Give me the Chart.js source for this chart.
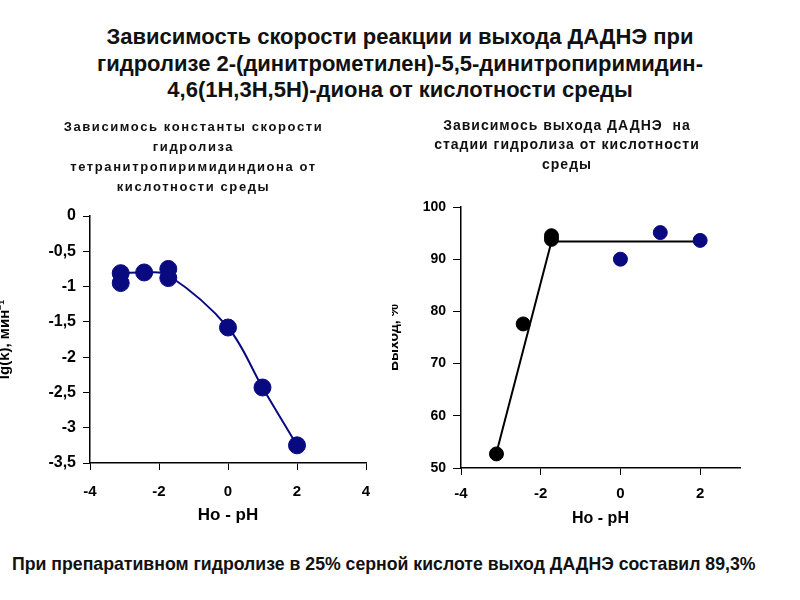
<!DOCTYPE html>
<html><head><meta charset="utf-8">
<script src="https://cdn.jsdelivr.net/npm/chart.js"></script>
<style>
html,body{margin:0;padding:0;background:#fff;width:800px;height:600px;overflow:hidden;font-family:'Liberation Sans',Arial,sans-serif;}
#title{position:absolute;left:0;top:24px;width:800px;text-align:center;font-weight:bold;font-size:22px;line-height:26.5px;color:#111;}
#footer{position:absolute;left:12px;top:554px;font-weight:bold;font-size:17.7px;line-height:20px;white-space:nowrap;color:#111;}
#c1{position:absolute;left:0;top:110px;z-index:2;background:#fff;}
#c2{position:absolute;left:376px;top:110px;z-index:1;}
</style></head><body>
<div id="title">Зависимость скорости реакции и выхода ДАДНЭ при<br>гидролизе 2-(динитрометилен)-5,5-динитропиримидин-<br>4,6(1H,3H,5H)-диона от кислотности среды</div>
<canvas id="c1" width="392" height="430"></canvas>
<canvas id="c2" width="424" height="430"></canvas>
<div id="footer">При препаративном гидролизе в 25% серной кислоте выход ДАДНЭ составил 89,3%</div>
<script>
// ---- Chart 1: rate constant vs acidity ----
const kX = [-3.11, -3.11, -2.43, -1.73, -1.73, 0, 1, 2];
const kY = [-0.81, -0.95, -0.80, -0.75, -0.88, -1.58, -2.43, -3.25];
const kFitX = [-3.11, -2.43, -1.73, 0, 1, 2];
const kFitY = [-0.81, -0.80, -0.84, -1.58, -2.43, -3.25];
const kXTicks = [-4, -2, 0, 2, 4];
const kYTicks = [0, -0.5, -1, -1.5, -2, -2.5, -3, -3.5];
const kTitle = ['Зависимось константы скорости', 'гидролиза', 'тетранитропиримидиндиона от', 'кислотности среды'];

// ---- Chart 2: yield vs acidity ----
const yieldBlackX = [-3.11, -2.44, -1.73, -1.73];
const yieldBlackY = [52.7, 77.6, 94.5, 93.8];
const yieldBlueX = [0, 1, 2];
const yieldBlueY = [90.0, 95.1, 93.6];
const yieldFitX = [-3.11, -1.73, 2];
const yieldFitY = [52.9, 93.4, 93.4];
const yXTicks = [-4, -2, 0, 2];
const yYTicks = [50, 60, 70, 80, 90, 100];
const yTitle = ['Зависимось выхода ДАДНЭ  на', 'стадии гидролиза от кислотности', 'среды'];

const NAVY = '#0a0a80';
Chart.defaults.font.family = "'Liberation Sans', Arial, sans-serif";
Chart.defaults.color = '#000';

const pts = (xs, ys) => xs.map((x, i) => ({x: x, y: ys[i]}));

// letter-spaced chart title (wraps the title box draw)
const spacedTitle = {
  id: 'spacedTitle',
  beforeDraw(chart, args, opts) {
    const tb = chart.titleBlock;
    if (tb && !tb._spaced) {
      const orig = tb.draw.bind(tb);
      tb.draw = function () {
        const ctx = this.ctx;
        const prev = ctx.letterSpacing;
        ctx.letterSpacing = (opts.spacing || 0) + 'px';
        orig();
        ctx.letterSpacing = prev || '0px';
      };
      tb._spaced = true;
    }
  }
};

function axis(o) {
  return {
    type: 'linear', min: o.min, max: o.max,
    afterBuildTicks: s => { s.ticks = o.ticks.map(v => ({value: v})); },
    afterFit: s => { if (o.isX) s.height = o.fit; else s.width = o.fit; },
    grid: {display: true, drawOnChartArea: false, drawTicks: true, tickLength: o.tickLen, color: '#000', lineWidth: 1},
    border: {display: true, color: '#000', width: 1.5},
    ticks: {padding: o.tickPad, color: '#000', autoSkip: false, maxRotation: 0,
      font: {size: o.fontSize, weight: 'bold'},
      callback: v => String(v).replace('.', ',')},
    title: {display: true, text: o.title, color: '#000',
      font: {size: o.titleSize, weight: 'bold'}, padding: o.titlePad}
  };
}

new Chart(document.getElementById('c1'), {
  type: 'scatter',
  plugins: [spacedTitle],
  data: {datasets: [
    {data: pts(kX, kY), pointRadius: 8.5, pointHoverRadius: 8.5, backgroundColor: NAVY, borderColor: NAVY, borderWidth: 1, showLine: false},
    {data: pts(kFitX, kFitY), showLine: true, pointRadius: 0, borderColor: NAVY, borderWidth: 2, tension: 0.35, fill: false}
  ]},
  options: {
    responsive: false, animation: false, devicePixelRatio: 1,
    layout: {padding: {left: 21, right: 26, top: 0, bottom: 0}},
    plugins: {
      legend: {display: false}, tooltip: {enabled: false},
      spacedTitle: {spacing: 1.6},
      title: {display: true, text: kTitle, color: '#111',
        font: {size: 13, weight: 'bold', lineHeight: 20 / 13},
        padding: {top: 7, bottom: 19}}
    },
    scales: {
      x: axis({min: -4, max: 4, ticks: kXTicks, isX: true, fit: 77, tickLen: 7, tickPad: 13, fontSize: 15,
        title: 'Ho - pH', titleSize: 17, titlePad: {top: 0, bottom: 14}}),
      y: axis({min: -3.5, max: 0, ticks: kYTicks, isX: false, fit: 69, tickLen: 7, tickPad: 7, fontSize: 16,
        title: 'lg(k), мин⁻¹', titleSize: 15, titlePad: {top: -25, bottom: 0}})
    }
  }
});

new Chart(document.getElementById('c2'), {
  type: 'scatter',
  plugins: [spacedTitle],
  data: {datasets: [
    {data: pts(yieldBlackX, yieldBlackY), pointRadius: 7, pointHoverRadius: 7, backgroundColor: '#000', borderColor: '#000', borderWidth: 1},
    {data: pts(yieldBlueX, yieldBlueY), pointRadius: 7, pointHoverRadius: 7, backgroundColor: NAVY, borderColor: NAVY, borderWidth: 1},
    {data: pts(yieldFitX, yieldFitY), showLine: true, pointRadius: 0, borderColor: '#000', borderWidth: 2, tension: 0, fill: false}
  ]},
  options: {
    responsive: false, animation: false, devicePixelRatio: 1,
    layout: {padding: {left: 18, right: 60, top: 0, bottom: 0}},
    plugins: {
      legend: {display: false}, tooltip: {enabled: false},
      spacedTitle: {spacing: 1},
      title: {display: true, text: yTitle, color: '#111',
        font: {size: 14, weight: 'bold', lineHeight: 1.4},
        padding: {top: 6, bottom: 32.2}}
    },
    scales: {
      x: axis({min: -4, max: 3, ticks: yXTicks, isX: true, fit: 72, tickLen: 7, tickPad: 10, fontSize: 15,
        title: 'Ho - pH', titleSize: 16, titlePad: {top: 0, bottom: 12}}),
      y: axis({min: 50, max: 100, ticks: yYTicks, isX: false, fit: 67, tickLen: 8, tickPad: 7, fontSize: 14,
        title: 'Выход, %', titleSize: 14, titlePad: {top: -8.4, bottom: 0}})
    }
  }
});
</script>
</body></html>
